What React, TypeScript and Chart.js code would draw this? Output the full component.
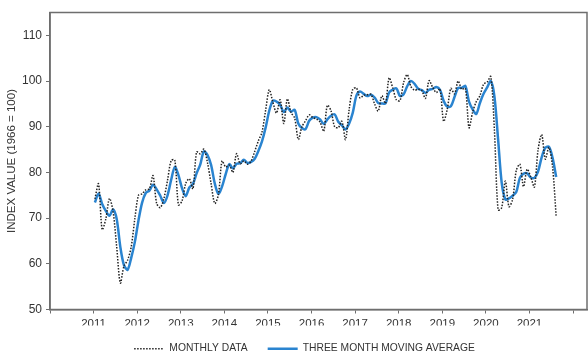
import React, { useEffect, useRef } from "react";
import { Chart, registerables } from "chart.js";

Chart.register(...registerables);

// Monthly index values, Jan 2011 .. Aug 2021
const START_YEAR = 2011;
const monthlyData = [
  74.2, 77.5, 67.5, 69.8, 74.3, 71.5, 63.7, 55.8, 59.5, 60.8, 63.7, 69.9,
  75.0, 75.3, 76.2, 76.4, 79.3, 73.2, 72.3, 74.3, 78.3, 82.6, 82.7, 72.9,
  73.8, 77.6, 78.6, 76.4, 84.5, 84.1, 85.1, 82.1, 77.5, 73.2, 75.1, 82.5,
  81.2, 81.6, 80.0, 84.1, 81.9, 82.5, 81.8, 82.5, 84.6, 86.9, 88.8, 93.6,
  98.1, 95.4, 93.0, 95.9, 90.7, 96.1, 93.1, 91.9, 87.2, 90.0, 91.3, 92.6,
  92.0, 91.7, 91.0, 89.0, 94.7, 93.5, 90.0, 89.8, 91.2, 87.2, 93.8, 98.2,
  98.5, 96.3, 96.9, 97.0, 97.1, 95.0, 93.4, 96.8, 95.1, 100.7, 98.5, 95.9,
  95.7, 99.7, 101.4, 98.8, 98.0, 98.2, 97.9, 96.2, 100.1, 98.6, 97.5, 98.3,
  91.2, 93.8, 98.4, 97.2, 100.0, 98.2, 98.4, 89.8, 93.2, 95.5, 96.8, 99.3,
  99.8, 101.0, 89.1, 71.8, 72.3, 78.1, 72.5, 74.1, 80.4, 81.8, 76.9, 80.7,
  79.0, 76.8, 84.9, 88.3, 82.9, 85.5, 81.2, 70.3,
];

const movingAverage = [
  73.4, 75.4, 73.1, 71.6, 70.5, 71.9, 69.8, 63.7, 59.7, 58.7, 61.3, 64.8,
  69.5, 73.4, 75.5, 76.0, 77.3, 76.3, 74.9, 73.3, 75.0, 78.4, 81.2, 79.4,
  76.5, 74.8, 76.7, 77.5, 79.8, 81.7, 84.6, 83.8, 81.6, 77.6, 75.3, 76.9,
  79.6, 81.8, 80.9, 81.9, 82.0, 82.8, 82.1, 82.3, 83.0, 84.7, 86.8, 89.8,
  93.5, 95.7, 95.5, 94.8, 93.2, 94.2, 93.3, 93.7, 90.7, 89.7, 89.5, 91.3,
  92.0, 92.1, 91.6, 90.6, 91.6, 92.4, 92.7, 91.1, 90.3, 89.4, 90.7, 93.1,
  96.8, 97.7, 97.2, 96.7, 97.0, 96.4, 95.2, 95.1, 95.1, 97.5, 98.1, 98.4,
  96.7, 97.1, 98.9, 100.0, 99.4, 98.3, 98.0, 97.4, 98.1, 98.3, 98.7, 98.1,
  95.7, 94.4, 94.5, 96.5, 98.5, 98.5, 98.9, 95.5, 93.8, 92.8, 95.2, 97.2,
  98.6, 100.0, 96.6, 87.3, 77.7, 74.1, 74.3, 74.9, 75.7, 78.8, 79.7, 79.8,
  78.9, 78.8, 80.2, 83.3, 85.4, 85.6, 83.2, 79.0,
];

const yTickValues = [50, 60, 70, 80, 90, 100, 110];
const xTickYears = [2010, 2011, 2012, 2013, 2014, 2015, 2016, 2017, 2018, 2019, 2020, 2021, 2022];
const xLabelYears = [2011, 2012, 2013, 2014, 2015, 2016, 2017, 2018, 2019, 2020, 2021];
const seriesNames = ["MONTHLY DATA", "THREE MONTH MOVING AVERAGE"];
const yTitle = "INDEX VALUE (1966 = 100)";

const FONT = "'Liberation Sans', Arial, sans-serif";
const TEXT = "#333333";
const AXIS = "#6e6e6e";
const BLUE = "#2a84d0";
const DOT = "#222222";

const toPoints = (vals: number[]) =>
  vals.map((v, i) => ({ x: START_YEAR + i / 12 + 0.03, y: v }));

const framePlugin = {
  id: "frame",
  beforeDatasetsDraw(chart: any) {
    const { ctx, chartArea } = chart;
    const { left, top, right, bottom } = chartArea;
    ctx.save();
    ctx.strokeStyle = AXIS;
    ctx.lineWidth = 1.5;
    ctx.strokeRect(left, top, right - left, bottom - top);
    ctx.restore();
  },
};

const legendFix = {
  id: "legendFix",
  beforeLayout(chart: any) {
    const l = chart.legend;
    if (l && !l._patchedFit) {
      const orig = l.fit.bind(l);
      l.fit = function () {
        orig();
        this.height = 31.5;
      };
      l._patchedFit = true;
    }
  },
  afterLayout(chart: any) {
    const l = chart.legend;
    if (l) {
      l.left += 11;
      l.right += 11;
      l.top -= 2;
      l.bottom -= 2;
    }
  },
};

export default function App() {
  const ref = useRef<HTMLCanvasElement>(null);

  useEffect(() => {
    if (!ref.current) return;
    const chart = new Chart(ref.current, {
      type: "line",
      data: {
        datasets: [
          {
            label: seriesNames[0],
            data: toPoints(monthlyData),
            borderColor: DOT,
            borderWidth: 1.5,
            borderDash: [1.5, 1.5],
            pointRadius: 0,
            tension: 0.3,
            fill: false,
          },
          {
            label: seriesNames[1],
            data: toPoints(movingAverage),
            borderColor: BLUE,
            borderWidth: 2.5,
            pointRadius: 0,
            tension: 0.3,
            fill: false,
          },
        ],
      },
      options: {
        animation: false,
        responsive: true,
        maintainAspectRatio: false,
        layout: { padding: { top: 12.5, right: 1, left: 0, bottom: 0 } },
        plugins: {
          tooltip: { enabled: false },
          legend: {
            position: "bottom",
            labels: {
              usePointStyle: true,
              pointStyleWidth: 30,
              padding: 20,
              color: TEXT,
              font: { family: FONT, size: 10.3 },
              generateLabels: () => [
                {
                  text: seriesNames[0],
                  strokeStyle: DOT,
                  fillStyle: DOT,
                  lineWidth: 1.5,
                  lineDash: [1.5, 1.5],
                  pointStyle: "line",
                  fontColor: TEXT,
                  hidden: false,
                  datasetIndex: 0,
                },
                {
                  text: seriesNames[1],
                  strokeStyle: BLUE,
                  fillStyle: BLUE,
                  lineWidth: 2.5,
                  lineDash: [],
                  pointStyle: "line",
                  fontColor: TEXT,
                  hidden: false,
                  datasetIndex: 1,
                },
              ],
            },
          },
        },
        scales: {
          x: {
            type: "linear",
            min: 2010,
            max: 2022.32,
            afterBuildTicks: (scale: any) => {
              scale.ticks = xTickYears.map((v) => ({ value: v }));
            },
            afterFit: (scale: any) => {
              scale.height = 16;
            },
            ticks: {
              autoSkip: false,
              maxRotation: 0,
              padding: 3,
              color: TEXT,
              font: { family: FONT, size: 11.5 },
              callback: (v: any) => (xLabelYears.includes(Number(v)) ? String(v) : ""),
            },
            grid: { display: true, drawOnChartArea: false, tickLength: 4, color: AXIS, lineWidth: 1 },
            border: { display: true, color: AXIS, width: 1.5 },
          },
          y: {
            type: "linear",
            min: 50,
            max: 115,
            afterBuildTicks: (scale: any) => {
              scale.ticks = yTickValues.map((v) => ({ value: v }));
            },
            afterFit: (scale: any) => {
              scale.width = 50;
            },
            ticks: {
              padding: 4,
              color: TEXT,
              font: { family: FONT, size: 12 },
            },
            title: {
              display: true,
              text: yTitle,
              color: TEXT,
              padding: { top: 4.5, bottom: 0 },
              font: { family: FONT, size: 11.5 },
            },
            grid: { display: true, drawOnChartArea: false, tickLength: 4, color: AXIS, lineWidth: 1 },
            border: { display: true, color: AXIS, width: 1.5 },
          },
        },
      },
      plugins: [framePlugin, legendFix],
    });
    return () => chart.destroy();
  }, []);

  return (
    <div style={{ position: "fixed", left: 0, top: 0, width: 588, height: 357, background: "#fff" }}>
      <canvas ref={ref} />
    </div>
  );
}
